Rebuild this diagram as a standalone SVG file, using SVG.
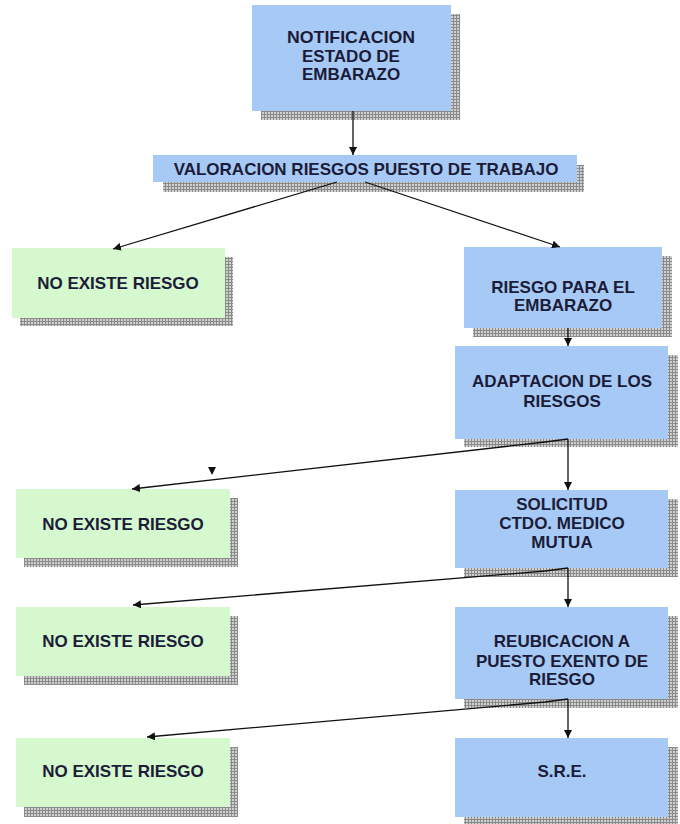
<svg xmlns="http://www.w3.org/2000/svg" width="680" height="824" viewBox="0 0 680 824">
<defs>
<pattern id="grid" width="3" height="3" patternUnits="userSpaceOnUse">
<rect width="3" height="3" fill="#d0d0d0"/>
<path d="M0 0.5H3M0.5 0V3" stroke="#8a8a8a" stroke-width="1"/>
</pattern>
<marker id="arr" markerWidth="8" markerHeight="8" refX="8" refY="4" orient="auto" markerUnits="userSpaceOnUse">
<path d="M0 0L8 4L0 8Z" fill="#111"/>
</marker>
<style>
.sh{fill:url(#grid)}
.blue{fill:#a6c9f5}
.green{fill:#d5f8cf}
text{font-family:"Liberation Sans",Arial,sans-serif;font-weight:bold;font-size:17px;fill:#1c1c38;text-anchor:middle}
.c{fill:none;stroke:#111;stroke-width:1.3;marker-end:url(#arr)}
</style>
</defs>
<rect width="680" height="824" fill="#fff"/>

<g id="n_notificacion">
<rect class="sh" x="261" y="14" width="199" height="106"/>
<rect class="blue" x="252" y="5" width="199" height="106"/>
<text x="351" y="43" textLength="128" lengthAdjust="spacingAndGlyphs">NOTIFICACION</text>
<text x="351" y="62">ESTADO DE</text>
<text x="351" y="80">EMBARAZO</text>
</g>

<g id="n_valoracion">
<rect class="sh" x="163" y="165" width="421" height="27"/>
<rect class="blue" x="153" y="155" width="424" height="27"/>
<text x="366" y="175">VALORACION RIESGOS PUESTO DE TRABAJO</text>
</g>

<g id="n_noexiste1">
<rect class="sh" x="20" y="257" width="213" height="69"/>
<rect class="green" x="12" y="248" width="213" height="70"/>
<text x="118" y="289">NO EXISTE RIESGO</text>
</g>

<g id="n_riesgo">
<rect class="sh" x="473" y="256" width="199" height="81"/>
<rect class="blue" x="464" y="247" width="198" height="81"/>
<text x="563" y="293">RIESGO PARA EL</text>
<text x="563" y="311">EMBARAZO</text>
</g>

<g id="n_adaptacion">
<rect class="sh" x="464" y="355" width="214" height="92"/>
<rect class="blue" x="455" y="346" width="213" height="93"/>
<text x="562" y="387">ADAPTACION DE LOS</text>
<text x="562" y="407">RIESGOS</text>
</g>

<g id="n_noexiste2">
<rect class="sh" x="24" y="498" width="214" height="69"/>
<rect class="green" x="16" y="489" width="214" height="69"/>
<text x="123" y="530">NO EXISTE RIESGO</text>
</g>

<g id="n_solicitud">
<rect class="sh" x="464" y="499" width="214" height="78"/>
<rect class="blue" x="455" y="490" width="213" height="78"/>
<text x="562" y="510">SOLICITUD</text>
<text x="562" y="529">CTDO. MEDICO</text>
<text x="562" y="548">MUTUA</text>
</g>

<g id="n_noexiste3">
<rect class="sh" x="24" y="616" width="214" height="69"/>
<rect class="green" x="16" y="607" width="214" height="69"/>
<text x="123" y="647">NO EXISTE RIESGO</text>
</g>

<g id="n_reubicacion">
<rect class="sh" x="464" y="616" width="214" height="92"/>
<rect class="blue" x="455" y="607" width="213" height="92"/>
<text x="562" y="647">REUBICACION A</text>
<text x="562" y="667">PUESTO EXENTO DE</text>
<text x="562" y="685">RIESGO</text>
</g>

<g id="n_noexiste4">
<rect class="sh" x="24" y="747" width="214" height="70"/>
<rect class="green" x="16" y="738" width="214" height="69"/>
<text x="123" y="777">NO EXISTE RIESGO</text>
</g>

<g id="n_sre">
<rect class="sh" x="464" y="747" width="214" height="79"/>
<rect class="blue" x="455" y="738" width="213" height="79"/>
<text x="562" y="777">S.R.E.</text>
</g>

<g id="connectors">
<path class="c" d="M353 111V155"/>
<path class="c" d="M337 182L113 249"/>
<path class="c" d="M365 182L560 247"/>
<path class="c" d="M568 328V346"/>
<path class="c" d="M568 439V490"/>
<path class="c" d="M568 439L545 442L132 489"/>
<path class="c" d="M568 568V607"/>
<path class="c" d="M568 568L545 571L133 605"/>
<path class="c" d="M568 699V738"/>
<path class="c" d="M568 699L545 702L147 737"/>
<path d="M208 467L216 467L212 475Z" fill="#111"/>
</g>
</svg>
